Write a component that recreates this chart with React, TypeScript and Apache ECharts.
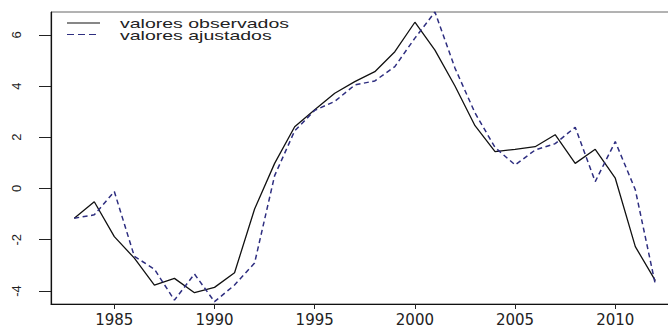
import React, { useEffect, useRef } from "react";
import * as echarts from "echarts";

const years = [1983, 1984, 1985, 1986, 1987, 1988, 1989, 1990, 1991, 1992, 1993, 1994, 1995, 1996, 1997, 1998, 1999, 2000, 2001, 2002, 2003, 2004, 2005, 2006, 2007, 2008, 2009, 2010, 2011, 2012];
const observados = [-1.16, -0.52, -1.88, -2.72, -3.77, -3.51, -4.07, -3.86, -3.29, -0.8, 0.98, 2.41, 3.07, 3.72, 4.17, 4.56, 5.34, 6.49, 5.4, 4.0, 2.45, 1.44, 1.53, 1.63, 2.1, 0.98, 1.53, 0.4, -2.27, -3.6];
const ajustados = [-1.16, -1.03, -0.12, -2.65, -3.15, -4.36, -3.34, -4.42, -3.77, -2.91, 0.5, 2.25, 3.05, 3.4, 4.04, 4.2, 4.76, 5.87, 6.89, 4.7, 2.95, 1.6, 0.92, 1.5, 1.75, 2.39, 0.27, 1.83, -0.05, -3.75];
const xTicks = [1985, 1990, 1995, 2000, 2005, 2010];
const yTicks = [-4, -2, 0, 2, 4, 6];
const legendLabels = ["valores observados", "valores ajustados"];

const DASH_COLOR = "#2e2e80";

export default function App() {
  const ref = useRef<HTMLDivElement>(null);
  useEffect(() => {
    if (!ref.current) return;
    const chart = echarts.init(ref.current, null, { renderer: "svg" });
    chart.setOption({
      animation: false,
      backgroundColor: "#ffffff",
      grid: {
        left: 51,
        top: 12,
        right: -10.6,
        bottom: 23,
        containLabel: false,
        outerBoundsMode: "none",
        show: true,
        borderColor: "#666",
        borderWidth: 1,
        backgroundColor: "transparent",
      },
      xAxis: {
        type: "value",
        min: 1981.84,
        max: 2013.16,
        splitLine: { show: false },
        axisLine: { show: true, onZero: false, lineStyle: { color: "#111", width: 1.2 } },
        axisTick: { show: true, length: 5, customValues: xTicks, lineStyle: { color: "#222" } },
        axisLabel: {
          customValues: xTicks,
          margin: 8,
          color: "#222",
          fontSize: 15,
          fontFamily: "DejaVu Sans",
          formatter: (v: number) => String(v),
        },
      },
      yAxis: {
        type: "value",
        min: -4.51,
        max: 6.89,
        splitLine: { show: false },
        axisLine: { show: true, onZero: false, lineStyle: { color: "#111", width: 1.2 } },
        axisTick: { show: true, length: 12, customValues: yTicks, lineStyle: { color: "#222" } },
        axisLabel: {
          customValues: yTicks,
          rotate: 90,
          margin: 28,
          color: "#222",
          fontSize: 13,
          fontFamily: "Liberation Sans",
          formatter: (v: number) => String(v),
        },
      },
      series: [
        {
          name: legendLabels[0],
          type: "line",
          data: years.map((y, i) => [y, observados[i]]),
          showSymbol: false,
          lineStyle: { color: "#111", width: 1.3, type: "solid" },
        },
        {
          name: legendLabels[1],
          type: "line",
          data: years.map((y, i) => [y, ajustados[i]]),
          showSymbol: false,
          lineStyle: { color: DASH_COLOR, width: 1.5, type: [5, 3.5] },
        },
      ],
      graphic: [
        { type: "line", shape: { x1: 67, y1: 23, x2: 100, y2: 23 }, style: { stroke: "#111", lineWidth: 1.2 } },
        { type: "line", shape: { x1: 67, y1: 34.5, x2: 100, y2: 34.5 }, style: { stroke: DASH_COLOR, lineWidth: 1.2, lineDash: [7, 4] } },
        {
          type: "text",
          x: 120,
          y: 24,
          scaleX: 1.5,
          style: { text: legendLabels[0], fontSize: 13, fontFamily: "Liberation Sans", fill: "#222", verticalAlign: "middle", align: "left" },
        },
        {
          type: "text",
          x: 120,
          y: 35.5,
          scaleX: 1.5,
          style: { text: legendLabels[1], fontSize: 13, fontFamily: "Liberation Sans", fill: "#222", verticalAlign: "middle", align: "left" },
        },
      ],
    });
    return () => chart.dispose();
  }, []);
  return <div ref={ref} style={{ position: "fixed", left: 0, top: 0, width: 668, height: 327 }} />;
}
